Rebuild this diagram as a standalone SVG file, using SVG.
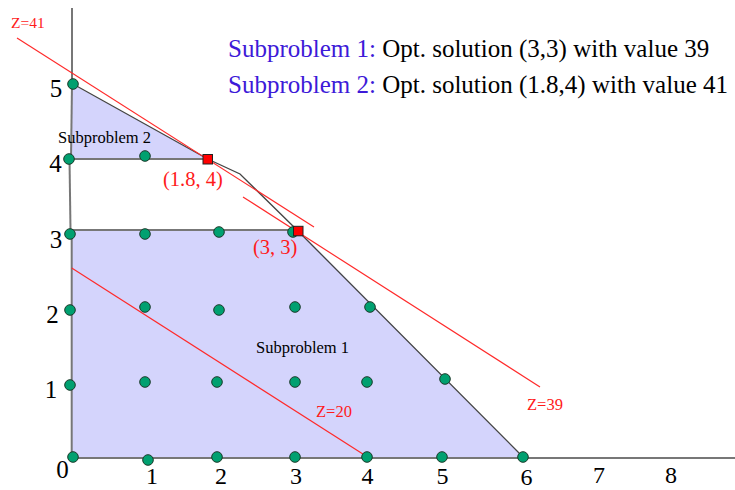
<svg xmlns="http://www.w3.org/2000/svg" width="735" height="490" viewBox="0 0 735 490">
<style>
.serif{font-family:"Liberation Serif","Times New Roman",serif;}
.ax{font-size:25px;fill:#000;text-anchor:middle;}
.bx{font-size:24px;fill:#000;text-anchor:middle;}
.red{fill:#ff1a1a;}
.zl{stroke:#ff2a2a;stroke-width:1.2;fill:none;}
.grid{stroke:#777;stroke-width:2;fill:none;}
.bd{stroke:#444;stroke-width:1.3;fill:none;}
.dot{fill:#00a070;stroke:#1a3a2a;stroke-width:1;}
.sq{fill:#ff0000;stroke:#222;stroke-width:1;}
.region{fill:#d4d4fc;stroke:none;}
</style>
<rect width="735" height="490" fill="#fff"/>
<g id="regions">
<polygon class="region" points="71.7,458 71.7,230 298,230 523,457"/>
<polygon class="region" points="72,84 207.7,159 71,159"/>
</g>
<g id="connectors">
<line class="grid" x1="72" y1="8" x2="72" y2="84"/>
<line class="grid" x1="72" y1="84" x2="71" y2="159"/>
<line class="grid" x1="69.5" y1="159" x2="70.5" y2="230"/>
<line class="grid" x1="71.7" y1="230" x2="71.7" y2="458"/>
<line class="grid" x1="71" y1="458" x2="735" y2="458"/>
<line class="grid" x1="70" y1="159" x2="207.7" y2="159"/>
<line class="grid" x1="70" y1="230" x2="298" y2="230"/>
<polyline class="bd" points="73,84 207.7,159 240,174 298,231 523,457"/>
<line class="zl" x1="17" y1="38" x2="314" y2="227"/>
<line class="zl" x1="243" y1="197" x2="540" y2="387"/>
<line class="zl" x1="71.7" y1="268" x2="366" y2="456"/>
</g>
<g id="points">
<circle class="dot" cx="73" cy="457" r="5.3"/>
<circle class="dot" cx="148" cy="460" r="5.3"/>
<circle class="dot" cx="217" cy="457" r="5.3"/>
<circle class="dot" cx="295" cy="457" r="5.3"/>
<circle class="dot" cx="367" cy="457" r="5.3"/>
<circle class="dot" cx="442" cy="457" r="5.3"/>
<circle class="dot" cx="523" cy="457" r="5.3"/>
<circle class="dot" cx="70" cy="385" r="5.3"/>
<circle class="dot" cx="145" cy="382" r="5.3"/>
<circle class="dot" cx="217" cy="382" r="5.3"/>
<circle class="dot" cx="295" cy="382" r="5.3"/>
<circle class="dot" cx="367" cy="382" r="5.3"/>
<circle class="dot" cx="445" cy="379" r="5.3"/>
<circle class="dot" cx="70" cy="310" r="5.3"/>
<circle class="dot" cx="145" cy="307" r="5.3"/>
<circle class="dot" cx="219" cy="310" r="5.3"/>
<circle class="dot" cx="295" cy="307" r="5.3"/>
<circle class="dot" cx="370" cy="307" r="5.3"/>
<circle class="dot" cx="70" cy="234" r="5.3"/>
<circle class="dot" cx="145" cy="234" r="5.3"/>
<circle class="dot" cx="219" cy="232" r="5.3"/>
<circle class="dot" cx="293" cy="232" r="5.3"/>
<circle class="dot" cx="69" cy="159" r="5.3"/>
<circle class="dot" cx="145" cy="156" r="5.3"/>
<circle class="dot" cx="73" cy="84" r="5.3"/>
</g>
<g id="opt-1.8-4">
<rect class="sq" x="203" y="154.5" width="9.5" height="9.5"/>
<text class="serif red" font-family="Liberation Serif, Times New Roman, serif" x="163" y="186" font-size="20.5">(1.8, 4)</text>
</g>
<g id="opt-3-3">
<rect class="sq" x="293.5" y="226.3" width="9.5" height="9.5"/>
<text class="serif red" font-family="Liberation Serif, Times New Roman, serif" x="253" y="254" font-size="20.5">(3, 3)</text>
</g>
<g id="labels" font-family="Liberation Serif, Times New Roman, serif">
<text class="serif" x="58" y="143" font-size="16.5">Subproblem 2</text>
<text class="serif" x="256" y="353" font-size="16.5">Subproblem 1</text>
<text class="serif red" x="11" y="28" font-size="15.5">Z=41</text>
<text class="serif red" x="316" y="417" font-size="16.5">Z=20</text>
<text class="serif red" x="527" y="410" font-size="16.5">Z=39</text>
</g>
<g id="title" font-family="Liberation Serif, Times New Roman, serif">
<text class="serif" x="228" y="57" font-size="25"><tspan fill="#3d1ad8">Subproblem 1:</tspan> Opt. solution (3,3) with value 39</text>
<text class="serif" x="228" y="93" font-size="25"><tspan fill="#3d1ad8">Subproblem 2:</tspan> Opt. solution (1.8,4) with value 41</text>
</g>
<g id="axis-labels" class="serif" font-family="Liberation Serif, Times New Roman, serif">
<text class="ax" x="56" y="97">5</text>
<text class="ax" x="55.5" y="172">4</text>
<text class="ax" x="56" y="248">3</text>
<text class="ax" x="52.5" y="323">2</text>
<text class="ax" x="51" y="398">1</text>
<text class="ax" x="62.5" y="478">0</text>
<text class="bx" x="152" y="484">1</text>
<text class="bx" x="221" y="484">2</text>
<text class="bx" x="296" y="484">3</text>
<text class="bx" x="367.5" y="484">4</text>
<text class="bx" x="442.5" y="484">5</text>
<text class="bx" x="526.5" y="485">6</text>
<text class="bx" x="599" y="483">7</text>
<text class="bx" x="671" y="483">8</text>
</g>
</svg>
